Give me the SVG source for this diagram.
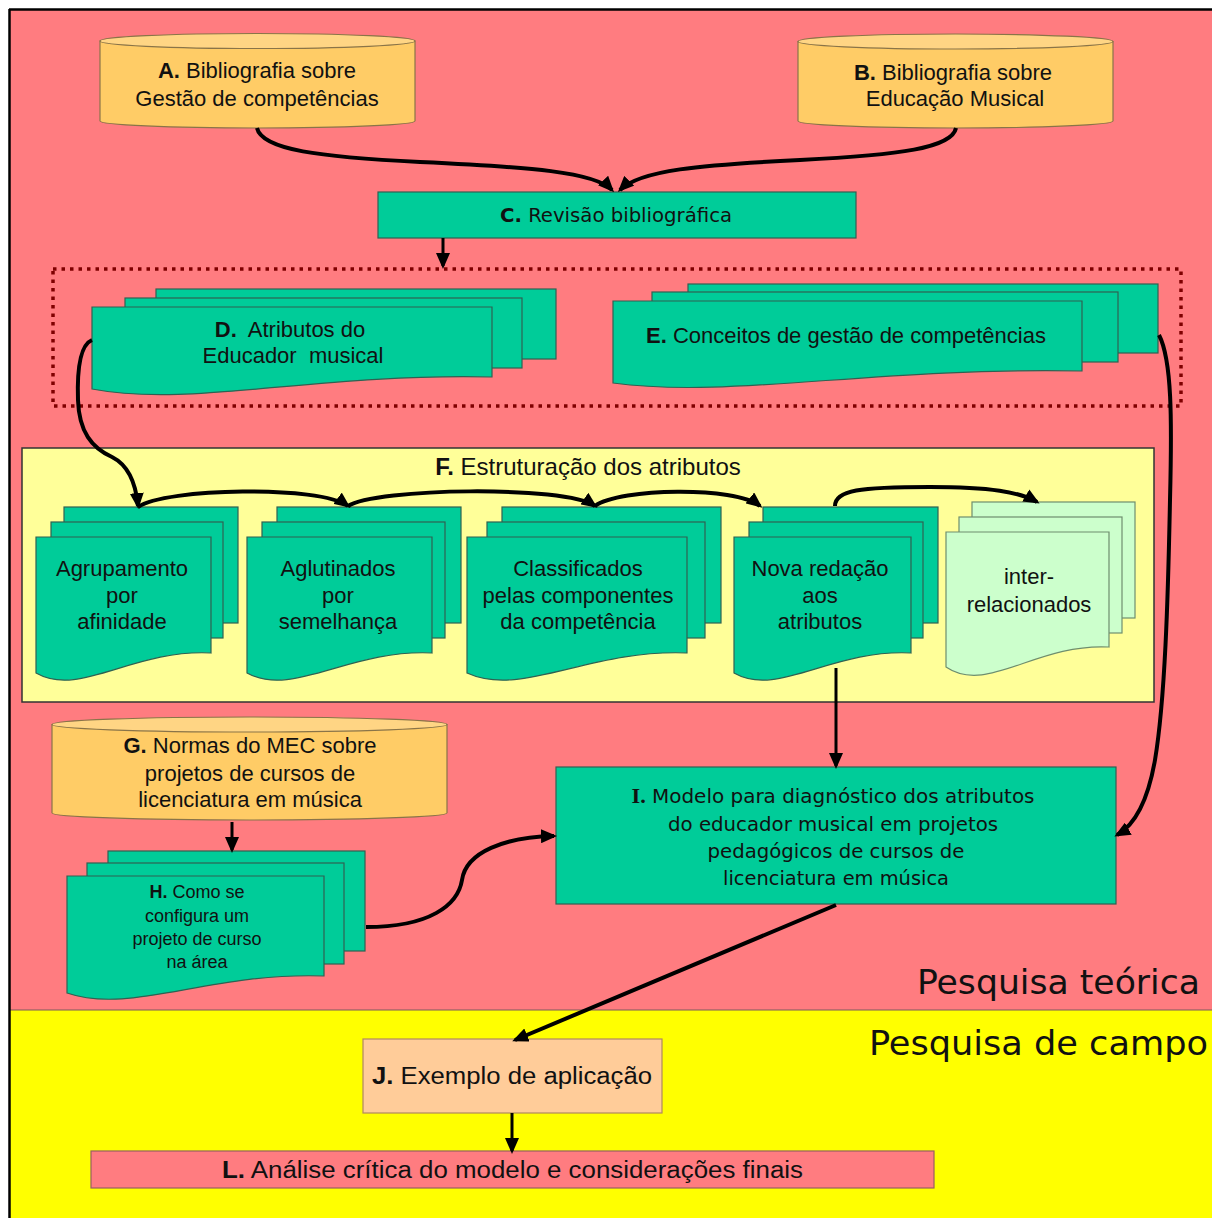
<svg xmlns="http://www.w3.org/2000/svg" width="1212" height="1218" viewBox="0 0 1212 1218">
<defs>
<style>
text{font-family:"Liberation Sans",Arial,sans-serif;fill:#111;font-size:22px;text-anchor:middle}
.tah{font-family:"DejaVu Sans Condensed","DejaVu Sans",sans-serif;font-stretch:condensed}
.b{font-weight:bold}
.teal{fill:#00CC99;stroke:#2F6152;stroke-width:1.2}
.lg{fill:#CCFFCC;stroke:#6E8E6E;stroke-width:1.2}
.cyl{fill:#FFCC66;stroke:#8A7448;stroke-width:1.2}
.cyltop{fill:#FFD584;stroke:#8A7448;stroke-width:1.2}
.conn{fill:none;stroke:#000;stroke-width:4;marker-end:url(#ah)}
.thin{stroke-width:3}
</style>
<marker id="ah" viewBox="0 0 16 14" refX="13" refY="7" markerWidth="16" markerHeight="14" markerUnits="userSpaceOnUse" orient="auto">
<path d="M0,0 L16,7 L0,14 Z" fill="#000"/>
</marker>
</defs>

<g id="background">
<rect x="0" y="0" width="1212" height="1218" fill="#FFFFFF"/>
<rect x="9" y="9" width="1203" height="1001" fill="#FF7C80"/>
<rect x="9" y="1010" width="1203" height="208" fill="#FFFF00"/>
<line x1="9" y1="1010" x2="1212" y2="1010" stroke="#7a5a5a" stroke-width="1.2"/>
<line x1="9" y1="9.5" x2="1212" y2="9.5" stroke="#000" stroke-width="2.5"/>
<line x1="9.5" y1="9" x2="9.5" y2="1218" stroke="#000" stroke-width="2.5"/>
<text class="tah" x="1200" y="994" style="font-size:34px;text-anchor:end" textLength="283" lengthAdjust="spacingAndGlyphs">Pesquisa teórica</text>
<text class="tah" x="1208" y="1055" style="font-size:34px;text-anchor:end" textLength="339" lengthAdjust="spacingAndGlyphs">Pesquisa de campo</text>
</g>

<g id="dotted-group">
<rect x="53" y="269" width="1128" height="137" fill="none" stroke="#7F0000" stroke-width="3.5" stroke-dasharray="3.5 5"/>
</g>

<g id="nodeF">
<rect x="22" y="448" width="1132" height="254" fill="#FFFF99" stroke="#333" stroke-width="1.5"/>
<text x="588" y="475" style="font-size:24px"><tspan class="b">F.</tspan> Estruturação dos atributos</text>
</g>

<g id="nodeA">
<path class="cyl" d="M100,41 V121 A157.5,7 0 0 0 415,121 V41 Z"/>
<ellipse class="cyltop" cx="257.5" cy="41" rx="157.5" ry="7.5"/>
<text x="257" y="78"><tspan class="b">A.</tspan> Bibliografia sobre</text>
<text x="257" y="106">Gestão de competências</text>
</g>

<g id="nodeB">
<path class="cyl" d="M798,41.5 V121 A157.5,7 0 0 0 1113,121 V41.5 Z"/>
<ellipse class="cyltop" cx="955.5" cy="41.5" rx="157.5" ry="7.5"/>
<text x="953" y="80"><tspan class="b">B.</tspan> Bibliografia sobre</text>
<text x="955" y="106">Educação Musical</text>
</g>

<g id="nodeC">
<rect class="teal" x="378" y="192" width="478" height="46"/>
<text class="tah" x="616" y="222" style="font-size:20px" textLength="232" lengthAdjust="spacingAndGlyphs"><tspan class="b">C.</tspan> Revisão bibliográfica</text>
</g>

<g id="nodeD">
<rect class="teal" x="156" y="289" width="400" height="70"/>
<rect class="teal" x="125" y="298" width="397" height="70"/>
<path class="teal" d="M92,307 H492 V377 C312,373 192,408 92,389 Z"/>
<text x="290" y="337" xml:space="preserve"><tspan class="b">D.</tspan>  Atributos do</text>
<text x="293" y="363" xml:space="preserve">Educador  musical</text>
</g>

<g id="nodeE">
<rect class="teal" x="688" y="284" width="470" height="69"/>
<rect class="teal" x="652" y="292" width="466" height="70"/>
<path class="teal" d="M613,301 H1082 V371 C871,367 730,399 613,383 Z"/>
<text x="846" y="343"><tspan class="b">E.</tspan> Conceitos de gestão de competências</text>
</g>

<g id="nodeF1">
<rect class="teal" x="64" y="507" width="174" height="116"/>
<rect class="teal" x="51" y="522" width="172" height="116"/>
<path class="teal" d="M36,537 H211 V653 C132,649 80,698 36,673 Z"/>
<text x="122" y="576">Agrupamento</text>
<text x="122" y="603">por</text>
<text x="122" y="629">afinidade</text>
</g>

<g id="nodeF2">
<rect class="teal" x="277" y="507" width="184" height="116"/>
<rect class="teal" x="262" y="522" width="183" height="116"/>
<path class="teal" d="M247,537 H432 V653 C349,649 293,698 247,673 Z"/>
<text x="338" y="576">Aglutinados</text>
<text x="338" y="603">por</text>
<text x="338" y="629">semelhança</text>
</g>

<g id="nodeF3">
<rect class="teal" x="502" y="507" width="219" height="116"/>
<rect class="teal" x="487" y="522" width="218" height="116"/>
<path class="teal" d="M467,537 H687 V653 C588,649 522,698 467,673 Z"/>
<text x="578" y="576">Classificados</text>
<text x="578" y="603">pelas componentes</text>
<text x="578" y="629">da competência</text>
</g>

<g id="nodeF4">
<rect class="teal" x="763" y="507" width="175" height="116"/>
<rect class="teal" x="749" y="522" width="174" height="116"/>
<path class="teal" d="M734,537 H911 V653 C831,649 778,698 734,673 Z"/>
<text x="820" y="576">Nova redação</text>
<text x="820" y="603">aos</text>
<text x="820" y="629">atributos</text>
</g>

<g id="nodeF5">
<rect class="lg" x="972" y="502" width="163" height="116"/>
<rect class="lg" x="959" y="517" width="163" height="116"/>
<path class="lg" d="M946,532 H1109 V647 C1036,643 987,695 946,667 Z"/>
<text x="1029" y="584">inter-</text>
<text x="1029" y="612">relacionados</text>
</g>

<g id="nodeG">
<path class="cyl" d="M52,724.5 V813 A197.5,7 0 0 0 447,813 V724.5 Z"/>
<ellipse class="cyltop" cx="249.5" cy="724.5" rx="197.5" ry="7.5"/>
<text x="250" y="753"><tspan class="b">G.</tspan> Normas do MEC sobre</text>
<text x="250" y="781">projetos de cursos de</text>
<text x="250" y="807">licenciatura em música</text>
</g>

<g id="nodeH">
<rect class="teal" x="108" y="851" width="257" height="100"/>
<rect class="teal" x="87" y="863" width="257" height="101"/>
<path class="teal" d="M67,876 H324 V976 C208,972 131,1015 67,993 Z"/>
<text x="197" y="898" style="font-size:18px"><tspan class="b">H.</tspan> Como se</text>
<text x="197" y="922" style="font-size:18px">configura um</text>
<text x="197" y="945" style="font-size:18px">projeto de curso</text>
<text x="197" y="968" style="font-size:18px">na área</text>
</g>

<g id="nodeI">
<rect class="teal" x="556" y="767" width="560" height="137"/>
<text class="tah" x="833" y="803" style="font-size:20px" textLength="403" lengthAdjust="spacingAndGlyphs"><tspan style="font-family:'Liberation Serif',serif;font-weight:bold">I.</tspan> Modelo para diagnóstico dos atributos</text>
<text class="tah" x="833" y="831" style="font-size:20px" textLength="330" lengthAdjust="spacingAndGlyphs">do educador musical em projetos</text>
<text class="tah" x="836" y="858" style="font-size:20px" textLength="257" lengthAdjust="spacingAndGlyphs">pedagógicos de cursos de</text>
<text class="tah" x="836" y="885" style="font-size:20px" textLength="226" lengthAdjust="spacingAndGlyphs">licenciatura em música</text>
</g>

<g id="nodeJ">
<rect x="363" y="1039" width="299" height="74" fill="#FFCC99" stroke="#B08860" stroke-width="1.2"/>
<text x="512" y="1084" style="font-size:23px" textLength="280" lengthAdjust="spacingAndGlyphs"><tspan class="b">J.</tspan> Exemplo de aplicação</text>
</g>

<g id="nodeL">
<rect x="91" y="1151" width="843" height="37" fill="#FF7C80" stroke="#996060" stroke-width="1.2"/>
<text x="512.5" y="1178" style="font-size:23px" textLength="581" lengthAdjust="spacingAndGlyphs"><tspan class="b">L.</tspan> Análise crítica do modelo e considerações finais</text>
</g>

<g id="connectors">
<path class="conn" d="M257,128 C262,150 320,157 420,162 C530,167 595,172 612,190"/>
<path class="conn" d="M956,128 C952,148 900,155 800,160 C700,165 640,170 620,190"/>
<path class="conn thin" d="M443,238 V266"/>
<path class="conn" d="M92,340 C80,345 77,370 78,400 C79,432 92,448 112,457 C130,466 136,485 138,506"/>
<path class="conn" d="M138,507 C165,488 320,485 348,506"/>
<path class="conn" d="M348,506 C375,488 565,485 595,506"/>
<path class="conn" d="M595,506 C620,488 735,486 760,506"/>
<path class="conn" d="M835,506 C835,490 860,487 930,487 C990,487 1020,492 1037,502"/>
<path class="conn thin" d="M836,668 V766"/>
<path class="conn" d="M1159,335 C1172,360 1172,420 1170,500 C1168,600 1165,700 1155,760 C1148,800 1135,825 1117,835"/>
<path class="conn thin" d="M232,822 V850"/>
<path class="conn" d="M366,927 C430,927 458,905 462,880 C466,852 505,837 554,836"/>
<path class="conn" d="M836,905 L515,1040"/>
<path class="conn thin" d="M512,1113 V1151"/>
</g>
</svg>
